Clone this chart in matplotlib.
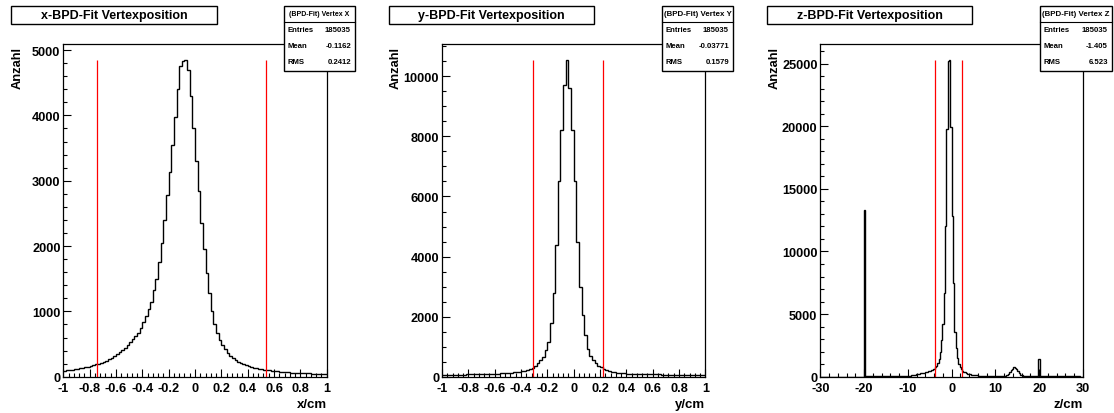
import numpy as np
import matplotlib
matplotlib.use('Agg')
import matplotlib.pyplot as plt
from matplotlib.patches import Rectangle
from matplotlib.ticker import MultipleLocator, FuncFormatter

plt.rcParams['font.family'] = ['Liberation Sans', 'DejaVu Sans']
plt.rcParams['font.weight'] = 'bold'

W, H = 1114, 414

# ---------------- data ----------------
titles = ["x-BPD-Fit Vertexposition", "y-BPD-Fit Vertexposition", "z-BPD-Fit Vertexposition"]
stat_names = ["(BPD-Fit) Vertex X", "(BPD-Fit) Vertex Y", "(BPD-Fit) Vertex Z"]
entries = ["185035", "185035", "185035"]
means = ["-0.1162", "-0.03771", "-1.405"]
rms = ["0.2412", "0.1579", "6.523"]
xlabels = ["x/cm", "y/cm", "z/cm"]
ylabel = "Anzahl"

x_range = (-1.0, 1.0)
x_counts = [
    92, 97, 102, 108, 114, 121, 128, 136, 145, 155,
    165, 176, 188, 200, 213, 228, 245, 265, 290, 315,
    342, 373, 405, 440, 480, 526, 570, 620, 670, 740,
    830, 930, 1030, 1150, 1330, 1500, 1750, 2050, 2400, 2780,
    3130, 3550, 3980, 4400, 4760, 4830, 4850, 4700, 4300, 3800,
    3300, 2850, 2350, 1950, 1580, 1280, 1000, 800, 670, 560,
    490, 420, 360, 315, 280, 255, 232, 212, 195, 180,
    165, 152, 140, 130, 120, 112, 105, 100, 95, 90,
    85, 80, 76, 72, 68, 65, 62, 59, 57, 55,
    53, 52, 51, 49, 47, 46, 45, 44, 42, 41,
]
x_cuts = [-0.742, 0.536]

y_range = (-1.0, 1.0)
y_counts = [
    56, 58, 60, 62, 64, 66, 68, 70, 72, 74,
    76, 78, 80, 82, 84, 86, 88, 90, 93, 97,
    101, 105, 110, 115, 120, 126, 133, 141, 150, 162,
    175, 192, 215, 250, 300, 360, 440, 540, 670, 880,
    1170, 1800, 2800, 4400, 6500, 8200, 9700, 10550, 9600, 8200,
    6500, 4500, 3000, 2050, 1380, 920, 690, 540, 440, 370,
    310, 265, 225, 195, 172, 153, 138, 126, 116, 110,
    104, 99, 95, 91, 88, 85, 83, 81, 79, 78,
    77, 76, 75, 73, 72, 70, 69, 67, 66, 65,
    64, 63, 62, 61, 60, 59, 58, 57, 56, 55,
]
y_cuts = [-0.311, 0.225]

z_range = (-30.0, 30.0)
z_counts = [
    0, 0, 0, 0, 0, 0, 0, 0, 0, 0,
    0, 0, 0, 0, 0, 0, 0, 0, 0, 0,
    0, 0, 0, 0, 0, 0, 0, 0, 0, 0,
    0, 0, 0, 13300,
    18, 18, 19, 19, 20, 20, 21, 21, 22, 22,
    23, 23, 24, 25, 26, 27, 28, 29, 30, 31,
    32, 34, 36, 38, 40, 42, 45, 48, 52, 56,
    60, 66, 72, 80, 88, 98,
    110, 135, 160, 190, 220, 245, 265, 290, 310, 330,
    360, 390, 420, 460, 500, 570, 650, 760, 850, 1100,
    1400, 1950, 2900, 4200, 6700, 12000, 19800, 25200, 25300, 19900,
    12800, 7500, 3600, 2300, 1500, 1050, 780, 600, 480, 400,
    340, 290, 250, 220, 190, 165, 145, 130, 115, 105,
    95, 88, 82, 76, 70, 66, 62, 58, 55, 52,
    50, 48, 46, 45, 45, 46, 48, 52, 58, 66,
    80, 110, 150, 230, 350, 500, 650, 750, 720, 600,
    430, 280, 170, 110, 80, 60, 50, 45, 42, 40,
    38, 36, 35, 34, 33, 32,
    1400,
    31, 30, 30, 29, 29, 28, 28, 27, 27, 26,
    26, 25, 25, 24, 24, 23, 23, 22, 22, 21,
    21, 20, 20, 19, 19, 18, 18, 17, 17, 16,
    16, 15, 15,
]
z_cuts = [-3.73, 2.37]

# ---------------- layout (pixel units, y from top) ----------------
axes_px = [(63.3, 45, 326.7, 377.7), (442.0, 45, 705.3, 377.7), (820.3, 45, 1083.0, 377.7)]
title_px = [(11, 7, 217, 25), (389, 7, 594, 25), (767, 7, 972, 25)]
stat_px = [(284, 7, 355, 72), (662, 7, 733, 72), (1040, 7, 1112, 72)]
head_fs = [5.0, 5.7, 5.7]
xmajor = [0.2, 0.2, 10]
xminor = [0.04, 0.04, 2]
ymajor = [1000, 2000, 5000]
yminor = [200, 500, 1000]

fig = plt.figure(figsize=(W / 100, H / 100), dpi=100)
fig.patch.set_facecolor('white')


def fx(x):
    return x / W


def fy(y):
    return 1 - y / H


def fmt(v, pos):
    v = round(v, 6)
    if abs(v) < 1e-9:
        return "0"
    return "%g" % v


data = [(x_counts, x_range, x_cuts), (y_counts, y_range, y_cuts), (z_counts, z_range, z_cuts)]

for i, (counts, rng, cuts) in enumerate(data):
    l, t, r, b = axes_px[i]
    ax = fig.add_axes([fx(l), fy(b), fx(r) - fx(l), fy(t) - fy(b)])
    counts = np.asarray(counts, dtype=float)
    edges = np.linspace(rng[0], rng[1], len(counts) + 1)
    peak = counts.max()
    ax.stairs(counts, edges, color='black', lw=1.0, baseline=None)
    ax.vlines(cuts, 0, peak, color='red', lw=0.9)
    ax.set_xlim(rng)
    ax.set_ylim(0, peak * 1.05)
    for s in ax.spines.values():
        s.set_linewidth(0.9)
    ax.xaxis.set_major_locator(MultipleLocator(xmajor[i]))
    ax.xaxis.set_minor_locator(MultipleLocator(xminor[i]))
    ax.yaxis.set_major_locator(MultipleLocator(ymajor[i]))
    ax.yaxis.set_minor_locator(MultipleLocator(yminor[i]))
    ax.xaxis.set_major_formatter(FuncFormatter(fmt))
    ax.yaxis.set_major_formatter(FuncFormatter(fmt))
    ax.tick_params(which='both', direction='in', top=False, right=False, width=0.8)
    ax.tick_params(which='major', length=5.8)
    ax.tick_params(which='minor', length=2.9)
    ax.tick_params(axis='x', which='major', pad=4.0, labelsize=9.2)
    ax.tick_params(axis='y', which='major', pad=2.0, labelsize=9.2)
    for lab in ax.get_xticklabels() + ax.get_yticklabels():
        lab.set_fontweight('bold')

    # axis titles
    fig.text(fx(r), fy(405), xlabels[i], ha='right', va='center', fontsize=9.5, fontweight='bold')
    fig.text(fx(l - 46), fy(t + 2), ylabel, ha='center', va='top', rotation=90,
             fontsize=9.3, fontweight='bold')

    # title box
    tl, tt, tr, tb = title_px[i]
    fig.patches.append(Rectangle((fx(tl), fy(tb)), fx(tr) - fx(tl), fy(tt) - fy(tb),
                                 transform=fig.transFigure, facecolor='white',
                                 edgecolor='black', lw=1.0, zorder=5))
    fig.text(fx((tl + tr) / 2), fy((tt + tb) / 2), titles[i], ha='center', va='center',
             fontsize=9.0, fontweight='bold', zorder=6)

    # stat box
    sl, st, sr, sb = stat_px[i]
    fig.patches.append(Rectangle((fx(sl), fy(sb)), fx(sr) - fx(sl), fy(st) - fy(sb),
                                 transform=fig.transFigure, facecolor='white',
                                 edgecolor='black', lw=1.0, zorder=5))
    fig.lines.append(plt.Line2D([fx(sl), fx(sr)], [fy(23), fy(23)], transform=fig.transFigure,
                                color='black', lw=0.8, zorder=6))
    fig.text(fx((sl + sr) / 2), fy(15), stat_names[i], ha='center', va='center',
             fontsize=head_fs[i], fontweight='bold', zorder=6)
    rows = [("Entries", entries[i], 30), ("Mean", means[i], 46), ("RMS", rms[i], 62)]
    for name, val, yy in rows:
        fig.text(fx(sl + 3), fy(yy), name, ha='left', va='center', fontsize=5.6,
                 fontweight='bold', zorder=6)
        fig.text(fx(sr - 4), fy(yy), val, ha='right', va='center', fontsize=5.6,
                 fontweight='bold', zorder=6)

fig.savefig('out.png', dpi=100, facecolor='white')
